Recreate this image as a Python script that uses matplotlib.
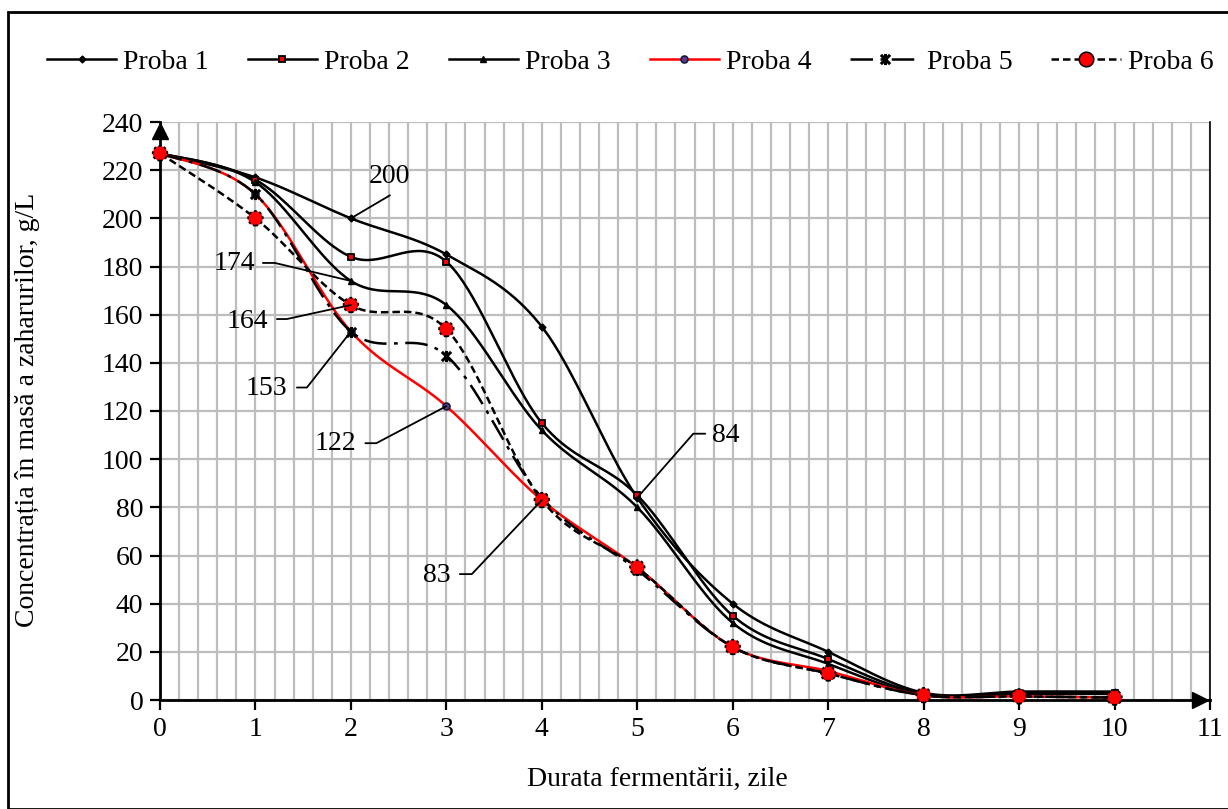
import numpy as np
import matplotlib
matplotlib.use('Agg')
import matplotlib.pyplot as plt
from matplotlib.path import Path
from matplotlib.lines import Line2D
from matplotlib.patches import Rectangle
from matplotlib.ticker import MultipleLocator
import math

plt.rcParams['font.family'] = ['Liberation Serif', 'DejaVu Serif']
plt.rcParams['font.size'] = 20

# zilele de fermentare si concentratia zaharurilor (g/L)
days = [0, 1, 2, 3, 4, 5, 6, 7, 8, 9, 10]
proba1 = [227, 217, 200, 185, 155, 84, 40, 20, 3, 3.5, 3.5]
proba2 = [227, 216, 184, 182, 115, 85, 35, 17, 2.5, 3, 3]
proba3 = [227, 215, 174, 164, 112, 80, 32, 15, 2, 2.5, 2.5]
proba4 = [227, 210, 153, 122, 83, 55, 22, 12, 2, 1.5, 1]
proba5 = [227, 210, 153, 143, 84, 54, 22, 11, 2, 1.5, 1]
proba6 = [227, 200, 164, 154, 83, 55, 22, 11, 2, 1.5, 1]
labels = ['Proba 1', 'Proba 2', 'Proba 3', 'Proba 4', 'Proba 5', 'Proba 6']

# etichete: (seria, ziua, text, offset text, inceput linie, cot) in pixeli
notes = [
    (proba1, 2, '200', (39, 42), (39, 23), (39, 23)),
    (proba3, 2, '174', (-117, 17), (-88, 18), (-76, 18)),
    (proba6, 2, '164', (-104, -16), (-74, -14), (-64, -14)),
    (proba5, 2, '153', (-84, -57), (-54, -56), (-44, -56)),
    (proba4, 3, '122', (-111, -37), (-81, -37), (-70, -37)),
    (proba1, 5, '84', (88, 62), (68, 64), (56, 64)),
    (proba4, 4, '83', (-105, -75), (-82, -74), (-70, -74)),
]


def smooth(x, y, n=40):
    # curba netezita ca in Excel (Bezier cu puncte de control Catmull-Rom)
    p = np.column_stack([x, y]).astype(float)
    p = np.vstack([p[0], p, p[-1]])
    t = np.linspace(0, 1, n)[:, None]
    out = []
    for i in range(1, len(p) - 2):
        p0, p1, p2, p3 = p[i - 1], p[i], p[i + 1], p[i + 2]
        c1 = p1 + (p2 - p0) / 6
        c2 = p2 - (p3 - p1) / 6
        seg = ((1 - t) ** 3) * p1 + 3 * ((1 - t) ** 2) * t * c1 \
            + 3 * (1 - t) * t ** 2 * c2 + t ** 3 * p2
        out.append(seg if i == 1 else seg[1:])
    s = np.vstack(out)
    return s[:, 0], s[:, 1]


star = Path([(-1, -1), (1, 1), (-1, 1), (1, -1), (0, -1.2), (0, 1.2)],
            [Path.MOVETO, Path.LINETO, Path.MOVETO, Path.LINETO,
             Path.MOVETO, Path.LINETO])

fig = plt.figure(figsize=(12.28, 8.09), dpi=100)
ax = fig.add_axes([160 / 1228, 1 - 700 / 809, 1050 / 1228, 578 / 809])

ax.set_xlim(0, 11)
ax.set_ylim(0, 240)
ax.xaxis.set_major_locator(MultipleLocator(1))
ax.xaxis.set_minor_locator(MultipleLocator(0.2))
ax.yaxis.set_major_locator(MultipleLocator(20))
ax.grid(True, which='both', axis='x', color='#bdbdbd', lw=1.6, zorder=0)
ax.grid(True, which='major', axis='y', color='#bdbdbd', lw=1.6, zorder=0)
ax.set_axisbelow(True)
ax.tick_params(which='major', direction='out', length=7, width=1.6, pad=5)
ax.tick_params(which='minor', length=0)
ax.spines['top'].set_visible(False)
ax.spines['right'].set_linewidth(1.2)
ax.spines['left'].set_linewidth(2)
ax.spines['bottom'].set_linewidth(2)

# sageti la capetele axelor
ax.plot([0], [0.985], marker='^', ms=11, color='black',
        transform=ax.transAxes, clip_on=False, zorder=6)
ax.plot([0.99], [0], marker='>', ms=11, color='black',
        transform=ax.transAxes, clip_on=False, zorder=6)

lw = 1.8
series = [
    dict(y=proba1, color='black', ls='-', marker='D', ms=3.5, mfc='black', mec='black', mew=1),
    dict(y=proba2, color='black', ls='-', marker='s', ms=4.5, mfc='red', mec='black', mew=1.3),
    dict(y=proba3, color='black', ls='-', marker='^', ms=4.5, mfc='black', mec='black', mew=1),
    dict(y=proba4, color='red', ls='-', marker='o', ms=5, mfc='#5b3a8e', mec='#1a1a3a', mew=1.2),
    dict(y=proba5, color='black', ls=(0, (9, 3, 1.5, 3)), marker=star, ms=8, mfc='none', mec='black', mew=2.2),
    dict(y=proba6, color='black', ls=(0, (3, 1.6)), marker='o', ms=10.5, mfc='red', mec='black', mew=1.1),
]

handles = []
for k, s in enumerate(series):
    xs, ys = smooth(days, s['y'])
    ax.plot(xs, ys, color=s['color'], ls=s['ls'], lw=lw, zorder=3 + k * 0.1)
    if k == 5:
        ax.scatter(days, s['y'], s=s['ms'] ** 2, c='red', edgecolors='black',
                   linewidths=1.3, linestyles=(0, (1.5, 1.5)), zorder=4 + k * 0.1,
                   clip_on=False)
    else:
        ax.plot(days, s['y'], ls='none', marker=s['marker'], ms=s['ms'],
                mfc=s['mfc'], mec=s['mec'], mew=s['mew'], zorder=4 + k * 0.1,
                clip_on=False)
    handles.append(Line2D([], [], color=s['color'], ls=s['ls'], lw=lw,
                          marker=s['marker'], ms=s['ms'], mfc=s['mfc'],
                          mec=s['mec'], mew=s['mew']))

for data, day, txt, toff, start, elbow in notes:
    xy = (days[day], data[day])
    ang = math.degrees(math.atan2(elbow[1], elbow[0]))
    ax.annotate('', xy=xy, xytext=start, textcoords='offset pixels',
                arrowprops=dict(arrowstyle='-', color='black', lw=1.3,
                                shrinkA=0, shrinkB=0,
                                connectionstyle='angle,angleA=0,angleB=%.2f,rad=0' % ang),
                zorder=7)
    ax.annotate(txt, xy=xy, xytext=toff, textcoords='offset pixels',
                ha='center', va='center', fontsize=20, zorder=8)

fig.text(28 / 1228, 1 - 410 / 809, 'Concentrația în masă a zaharurilor, g/L',
         rotation=90, ha='center', va='center', fontsize=20)
fig.text(657 / 1228, 1 - 779 / 809, 'Durata fermentării, zile',
         ha='center', va='center', fontsize=20)

fig.legend(handles, labels, loc='center', bbox_to_anchor=(630 / 1228, 1 - 62 / 809),
           ncol=6, frameon=False, handlelength=2.5, handletextpad=0.25,
           columnspacing=1.4, fontsize=20)

# chenarul diagramei
fig.patches.append(Rectangle((8 / 1228, 0), 1.1, 1 - 12 / 809, transform=fig.transFigure,
                             fill=False, edgecolor='black', lw=2))

fig.savefig('out.png', dpi=100)
